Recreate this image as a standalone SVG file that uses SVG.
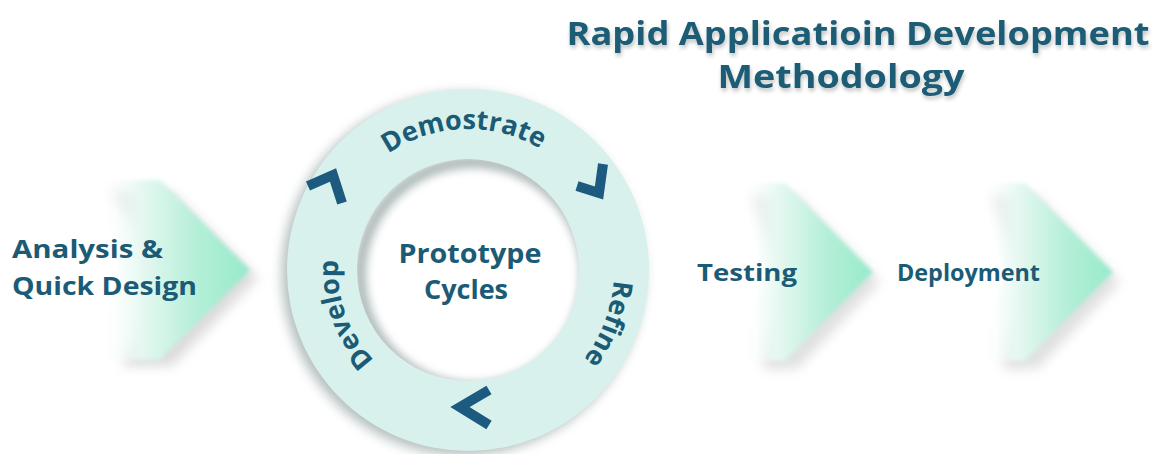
<svg xmlns="http://www.w3.org/2000/svg" width="1163" height="454" viewBox="0 0 1163 454">
<style>
.t{font-family:"Open Sans","Liberation Sans",sans-serif;font-weight:700;fill:#1b5b75}
.chev{fill:none;stroke:#1d5a80;stroke-width:10;stroke-linejoin:miter;stroke-linecap:butt}
</style>
<defs>
<linearGradient id="ga" x1="0" y1="0" x2="1" y2="0">
<stop offset="0" stop-color="#ffffff" stop-opacity="0"/>
<stop offset="0.3" stop-color="#e6f8f1"/>
<stop offset="0.65" stop-color="#b5efd8"/>
<stop offset="1" stop-color="#96eaca"/>
</linearGradient>
<filter id="soft" x="-20%" y="-20%" width="140%" height="140%"><feGaussianBlur stdDeviation="2"/></filter>
<filter id="blur4" x="-30%" y="-30%" width="160%" height="160%"><feGaussianBlur stdDeviation="4"/></filter>
<filter id="blur6" x="-30%" y="-30%" width="160%" height="160%"><feGaussianBlur stdDeviation="6"/></filter>
<filter id="tsh" x="-5%" y="-30%" width="110%" height="160%">
<feGaussianBlur in="SourceAlpha" stdDeviation="2"/><feOffset dx="1" dy="3"/>
<feComponentTransfer><feFuncA type="linear" slope="0.25"/></feComponentTransfer>
<feMerge><feMergeNode/><feMergeNode in="SourceGraphic"/></feMerge>
</filter>
<clipPath id="inner"><circle cx="468" cy="270" r="111"/></clipPath>
<path id="pDem" d="M468,411 A141,141 0 1 1 468,129 A141,141 0 1 1 468,411"/>
<path id="pRef" d="M468,416 A146,146 0 1 1 468,124 A146,146 0 1 1 468,416"/>
<path id="pDev" d="M468,400 A130,130 0 1 1 468,140 A130,130 0 1 1 468,400"/>
</defs>
<rect width="1163" height="454" fill="#ffffff"/>

<g id="title" filter="url(#tsh)">
<text class="t" x="858" y="45" font-size="32" text-anchor="middle" textLength="583" lengthAdjust="spacingAndGlyphs">Rapid Applicatioin Development</text>
<text class="t" x="841" y="88" font-size="32" text-anchor="middle" textLength="247" lengthAdjust="spacingAndGlyphs">Methodology</text>
</g>

<g id="analysis">
<polygon points="112,192 172,192 258,278 172,366 122,366 170,278" fill="#9a9a9a" opacity="0.35" filter="url(#blur6)"/>
<polygon points="95,180 160,180 250,270 160,360 95,360 120,270" fill="url(#ga)" filter="url(#soft)"/>
<text class="t" x="12" y="258" font-size="25" textLength="151" lengthAdjust="spacingAndGlyphs">Analysis &amp;</text>
<text class="t" x="12" y="295" font-size="25" textLength="185" lengthAdjust="spacingAndGlyphs">Quick Design</text>
</g>

<g id="cycle">
<circle cx="463" cy="274" r="181" fill="#7f918f" opacity="0.6" filter="url(#blur6)"/>
<circle cx="468" cy="270" r="181" fill="#d8f1ec"/>
<circle cx="468" cy="270" r="111" fill="#ffffff"/>
<g clip-path="url(#inner)">
<circle cx="473" cy="275" r="113" fill="none" stroke="#8d9e9c" stroke-width="12" opacity="0.7" filter="url(#blur4)"/>
</g>
<text class="t" x="470" y="263" font-size="27" text-anchor="middle" textLength="143" lengthAdjust="spacingAndGlyphs">Prototype</text>
<text class="t" x="466" y="299" font-size="27" text-anchor="middle">Cycles</text>
<text class="t" font-size="27"><textPath href="#pDem" startOffset="49.5%" text-anchor="middle">Demostrate</textPath></text>
<text class="t" font-size="27"><textPath href="#pRef" startOffset="80.8%" text-anchor="middle">Refine</textPath></text>
<text class="t" font-size="27"><textPath href="#pDev" startOffset="19.5%" text-anchor="middle">Develop</textPath></text>
<polyline class="chev" points="308,186 333,175 342,203"/>
<polyline class="chev" points="577,186 599,193 603,164"/>
<polyline class="chev" points="489,390 460,407 489,425"/>
</g>

<g id="testing">
<polygon points="752,196 797,196 880,282 797,369 762,369 785,282" fill="#9a9a9a" opacity="0.3" filter="url(#blur6)"/>
<polygon points="738,183 785,183 873,272 785,361 738,361 765,272" fill="url(#ga)" filter="url(#soft)"/>
<text class="t" x="697" y="281" font-size="24" textLength="100" lengthAdjust="spacingAndGlyphs">Testing</text>
</g>

<g id="deployment">
<polygon points="992,196 1037,196 1120,282 1037,369 1002,369 1025,282" fill="#9a9a9a" opacity="0.3" filter="url(#blur6)"/>
<polygon points="978,183 1025,183 1113,272 1025,361 978,361 1005,272" fill="url(#ga)" filter="url(#soft)"/>
<text class="t" x="897" y="281" font-size="24" textLength="143" lengthAdjust="spacingAndGlyphs">Deployment</text>
</g>

<g id="connectors"></g>
</svg>
